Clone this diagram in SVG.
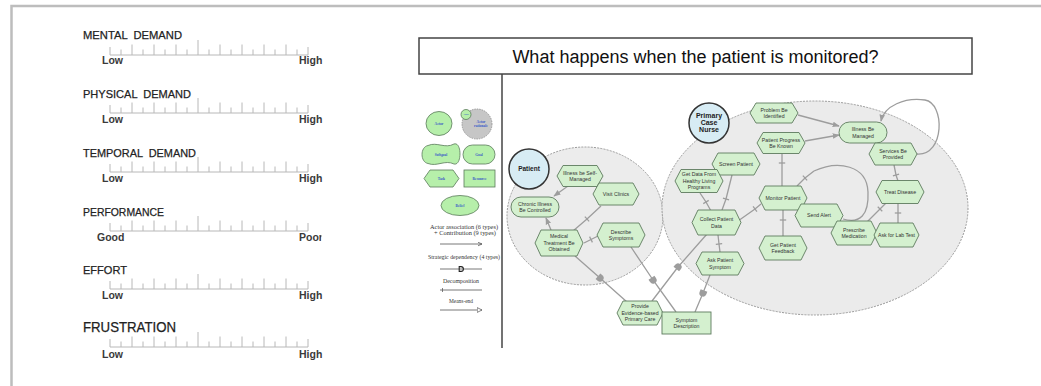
<svg xmlns="http://www.w3.org/2000/svg" width="1041" height="386" viewBox="0 0 1041 386">
<style>
  .frame{fill:none;stroke:#bdbdbd;stroke-width:2.5}
  .ttl{font-family:"Liberation Sans",Arial,sans-serif;font-size:11.5px;fill:#222;stroke:#222;stroke-width:0.25;white-space:pre}
  .lbl{font-family:"Liberation Sans",Arial,sans-serif;font-size:10.5px;font-weight:bold;fill:#3a3a3a}
  .scale{fill:none;stroke:#b8b8b8;stroke-width:1}
  .qbox{fill:#fff;stroke:#444;stroke-width:1.5}
  .qtxt{font-family:"Liberation Sans",Arial,sans-serif;font-size:18px;fill:#111}
  .bound{stroke:#9a9a9a;stroke-width:1;stroke-dasharray:2 1.2}
  .actor{fill:#d7ecf4;stroke:#333;stroke-width:1.5}
  .atxt{font-family:"Liberation Sans",Arial,sans-serif;font-weight:bold;fill:#222;text-anchor:middle}
  .el{fill:#d4f0cf;stroke:#5d7a5d;stroke-width:0.9}
  .t{font-family:"Liberation Sans",Arial,sans-serif;font-size:5.2px;fill:#333;text-anchor:middle}
  .c{fill:none;stroke:#9d9d9d;stroke-width:1.3}
  .lg{fill:#b6efaa;stroke:#5a7a5a;stroke-width:0.8}
  .lgt{font-family:"Liberation Serif","Times New Roman",serif;font-size:3.6px;font-weight:bold;fill:#3a58c8;text-anchor:middle}
  .lgl{font-family:"Liberation Serif","Times New Roman",serif;font-size:5.3px;fill:#333;text-anchor:middle}
  .lc{fill:none;stroke:#555;stroke-width:0.8}
</style>
<defs>
  <marker id="arr" viewBox="0 0 10 10" refX="9" refY="5" markerWidth="7" markerHeight="7" markerUnits="userSpaceOnUse" orient="auto">
    <path d="M0,1 L10,5 L0,9 Z" fill="#9d9d9d"/>
  </marker>
  <marker id="dep" viewBox="-5 -5 10 10" markerWidth="9" markerHeight="9" markerUnits="userSpaceOnUse" orient="auto">
    <path d="M-3,-4 H0 A4,4 0 0 1 0,4 H-3 Z" fill="#9d9d9d"/>
  </marker>
  <marker id="tick" viewBox="-5 -5 10 10" markerWidth="8" markerHeight="8" markerUnits="userSpaceOnUse" orient="auto">
    <path d="M0,-4 V4" stroke="#9d9d9d" stroke-width="1.6"/>
  </marker>
  <marker id="lgarr" viewBox="0 0 10 10" refX="9" refY="5" markerWidth="5" markerHeight="5" markerUnits="userSpaceOnUse" orient="auto">
    <path d="M0,1 L9,5 L0,9" fill="none" stroke="#555" stroke-width="1.5"/>
  </marker>
  <marker id="lgdep" viewBox="-5 -5 10 10" markerWidth="6" markerHeight="6" markerUnits="userSpaceOnUse" orient="auto">
    <path d="M-3,-4 H0 A4,4 0 0 1 0,4 H-3 Z" fill="none" stroke="#222" stroke-width="1.8"/>
  </marker>
  <marker id="lgtick" viewBox="-5 -5 10 10" markerWidth="5" markerHeight="5" markerUnits="userSpaceOnUse" orient="auto">
    <path d="M0,-4 V4" stroke="#555" stroke-width="1.5"/>
  </marker>
  <marker id="lgme" viewBox="0 0 10 10" refX="9" refY="5" markerWidth="6" markerHeight="6" markerUnits="userSpaceOnUse" orient="auto">
    <path d="M1,1 L9,5 L1,9 Z" fill="#fff" stroke="#555" stroke-width="1.2"/>
  </marker>
  <clipPath id="leftclip"><rect x="0" y="0" width="323.5" height="386"/></clipPath>
  <clipPath id="poorclip"><rect x="290" y="225" width="31.5" height="20"/></clipPath>
  <!-- rating scale: base line with 19 tick marks, origin at the left end -->
  <path id="scale" class="scale" d="M0,0 H198 M0,0 V-8 M11,0 V-5.5 M22,0 V-10.5 M33,0 V-5.5 M44,0 V-10.5 M55,0 V-5.5 M66,0 V-10.5 M77,0 V-5.5 M88,0 V-15 M99,0 V-5.5 M110,0 V-10.5 M121,0 V-5.5 M132,0 V-10.5 M143,0 V-5.5 M154,0 V-10.5 M165,0 V-5.5 M176,0 V-10.5 M187,0 V-5.5 M198,0 V-8"/>
</defs>

<rect width="1041" height="386" fill="#fff"/>
<path class="frame" d="M11.5,386 V6 H1041"/>

<!-- workload rating scales -->
<g id="scales" clip-path="url(#leftclip)">
  <g id="mental">
    <text class="ttl" x="83" y="39" xml:space="preserve" textLength="99" lengthAdjust="spacingAndGlyphs">MENTAL  DEMAND</text>
    <use href="#scale" x="110" y="55"/>
    <text class="lbl" x="102" y="64">Low</text>
    <text class="lbl" x="299" y="64">High</text>
  </g>
  <g id="physical">
    <text class="ttl" x="83" y="98" xml:space="preserve" textLength="108" lengthAdjust="spacingAndGlyphs">PHYSICAL  DEMAND</text>
    <use href="#scale" x="110" y="113"/>
    <text class="lbl" x="102" y="122.5">Low</text>
    <text class="lbl" x="299" y="122.5">High</text>
  </g>
  <g id="temporal">
    <text class="ttl" x="83" y="157" xml:space="preserve" textLength="113" lengthAdjust="spacingAndGlyphs">TEMPORAL  DEMAND</text>
    <use href="#scale" x="110" y="172"/>
    <text class="lbl" x="102" y="181.5">Low</text>
    <text class="lbl" x="299" y="181.5">High</text>
  </g>
  <g id="performance">
    <text class="ttl" x="83" y="216" textLength="81" lengthAdjust="spacingAndGlyphs">PERFORMANCE</text>
    <use href="#scale" x="110" y="231"/>
    <text class="lbl" x="97" y="240.5">Good</text>
    <text class="lbl" x="299" y="240.5" clip-path="url(#poorclip)">Poor</text>
  </g>
  <g id="effort">
    <text class="ttl" x="83" y="274" textLength="44" lengthAdjust="spacingAndGlyphs">EFFORT</text>
    <use href="#scale" x="110" y="289"/>
    <text class="lbl" x="102" y="299">Low</text>
    <text class="lbl" x="299" y="299">High</text>
  </g>
  <g id="frustration">
    <text class="ttl" x="83" y="332" style="font-size:14px" textLength="93" lengthAdjust="spacingAndGlyphs">FRUSTRATION</text>
    <use href="#scale" x="110" y="347"/>
    <text class="lbl" x="102" y="357.5">Low</text>
    <text class="lbl" x="299" y="357.5">High</text>
  </g>
</g>

<!-- question heading and divider -->
<g id="question">
  <rect class="qbox" x="419" y="38" width="553" height="36"/>
  <text class="qtxt" x="695.5" y="62.5" text-anchor="middle">What happens when the patient is monitored?</text>
  <path d="M502,74 V348" stroke="#444" stroke-width="1.5"/>
</g>

<!-- notation legend -->
<g id="legend">
  <ellipse class="lg" cx="439" cy="123.5" rx="13" ry="12"/>
  <text class="lgt" x="439" y="124.8">Actor</text>
  <circle cx="477" cy="124" r="15" fill="#c6c6c6" stroke="#8a8a8a" stroke-width="0.8" stroke-dasharray="1.5 1"/>
  <circle class="lg" cx="466" cy="114.5" r="5"/>
  <text class="lgt" x="466" y="115.3" style="font-size:2.2px">Actor</text>
  <text class="lgt" x="481" y="122.5">Actor</text>
  <text class="lgt" x="481" y="127.3">rationale</text>
  <path class="lg" d="M428,145.5 C437,141.5 445,149 454,144 C462,141.5 462,166 454,164 C445,159.5 437,167 428,163.5 C420,162 420,147 428,145.5 Z"/>
  <text class="lgt" x="441" y="155.8">Softgoal</text>
  <rect class="lg" x="463" y="145" width="32" height="19" rx="9.5"/>
  <text class="lgt" x="479" y="155.8">Goal</text>
  <polygon class="lg" points="424,178.5 430,170 453,170 459,178.5 453,187 430,187"/>
  <text class="lgt" x="441.5" y="179.8">Task</text>
  <rect class="lg" x="464" y="170" width="31" height="17"/>
  <text class="lgt" x="479.5" y="179.8">Resource</text>
  <ellipse class="lg" cx="460" cy="205.5" rx="19" ry="10"/>
  <text class="lgt" x="460" y="206.8">Belief</text>
  <text class="lgl" x="464" y="229" textLength="68" lengthAdjust="spacingAndGlyphs">Actor association (6 types)</text>
  <text class="lgl" x="465" y="234.5" textLength="62" lengthAdjust="spacingAndGlyphs">+ Contribution (9 types)</text>
  <path class="lc" d="M440,244 H482" marker-end="url(#lgarr)"/>
  <text class="lgl" x="464" y="259" textLength="72" lengthAdjust="spacingAndGlyphs">Strategic dependency (4 types)</text>
  <path class="lc" d="M440,269 H461 H482" marker-mid="url(#lgdep)"/>
  <text class="lgl" x="461" y="283" textLength="36" lengthAdjust="spacingAndGlyphs">Decomposition</text>
  <path class="lc" d="M440,290 L442.5,290 L482,290" marker-mid="url(#lgtick)"/>
  <text class="lgl" x="461" y="303" textLength="24" lengthAdjust="spacingAndGlyphs">Means-end</text>
  <path class="lc" d="M440,310 H482" marker-end="url(#lgme)"/>
</g>

<!-- actor boundaries -->
<g id="boundaries">
  <ellipse class="bound" cx="585" cy="216" rx="78" ry="69" fill="#ececec"/>
  <ellipse class="bound" cx="815" cy="208" rx="153" ry="107" fill="#ebebeb"/>
</g>

<!-- links -->
<g id="connectors">
  <path class="c" d="M568,186 L554,196" marker-end="url(#arr)"/>
  <path class="c" d="M551,230 L546,218" marker-end="url(#arr)"/>
  <path class="c" d="M601,206 L587,219 L573,231" marker-mid="url(#tick)"/>
  <path class="c" d="M598,236 L591,239.5 L584,243" marker-mid="url(#tick)"/>
  <path class="c" d="M575,256 L600,278 L627,302" marker-mid="url(#dep)"/>
  <path class="c" d="M652,301 L678,267 L707,234" marker-mid="url(#dep)"/>
  <path class="c" d="M631,247 L653,280 L676,312" marker-mid="url(#dep)"/>
  <path class="c" d="M710,275 L703,293 L695,312" marker-mid="url(#dep)"/>
  <path class="c" d="M798,115 L839,126" marker-end="url(#arr)"/>
  <path class="c" d="M805,141 L839,135" marker-end="url(#arr)"/>
  <path class="c" d="M917,154 C945,156 945,103 925,100 C905,97 884,106 881,121" marker-end="url(#arr)"/>
  <path class="c" d="M700,193 L706,202 L711,211" marker-mid="url(#tick)"/>
  <path class="c" d="M732,175 L726,199 L722,210" marker-mid="url(#tick)"/>
  <path class="c" d="M718,235 L719,244 L720,252" marker-mid="url(#tick)"/>
  <path class="c" d="M761,204 L755,209 L738,221" marker-mid="url(#tick)"/>
  <path class="c" d="M782,154 L782,163 L782,186" marker-mid="url(#tick)"/>
  <path class="c" d="M783,210 L783,220 L783,236" marker-mid="url(#tick)"/>
  <path class="c" d="M894,165 L896,175 L898,181" marker-mid="url(#tick)"/>
  <path class="c" d="M898,203 L898,213 L898,223" marker-mid="url(#tick)"/>
  <path class="c" d="M886,203 L880,209 L867,222" marker-mid="url(#tick)"/>
  <path class="c" d="M843,219 C860,224 869,215 868,192 C867,165 838,160 814,171"/>
  <path class="c" d="M814,171 L805,178 L797,186" marker-mid="url(#tick)"/>
</g>

<!-- Patient actor and elements -->
<g id="actor-patient">
  <circle class="actor" cx="529" cy="169" r="20"/>
  <text class="atxt" x="529" y="171.3" style="font-size:6.5px">Patient</text>
</g>
<g id="illness-self-managed">
  <polygon class="el" points="557,176 563,165.5 597,165.5 603,176 597,186.5 563,186.5"/>
  <text class="t" x="580" y="174.6">Illness be Self-</text>
  <text class="t" x="580" y="181.1">Managed</text>
</g>
<g id="visit-clinics">
  <polygon class="el" points="593,194 599,183 633,183 639,194 633,205 599,205"/>
  <text class="t" x="616" y="195.9">Visit Clinics</text>
</g>
<g id="chronic-illness">
  <rect class="el" x="511" y="197" width="48" height="20" rx="10"/>
  <text class="t" x="535" y="205.6">Chronic Illness</text>
  <text class="t" x="535" y="212.1">Be Controlled</text>
</g>
<g id="medical-treatment">
  <polygon class="el" points="535,243 541,230 577,230 583,243 577,256 541,256"/>
  <text class="t" x="559" y="238.4">Medical</text>
  <text class="t" x="559" y="244.9">Treatment Be</text>
  <text class="t" x="559" y="251.4">Obtained</text>
</g>
<g id="describe-symptoms">
  <polygon class="el" points="597,235 603,223 639,223 645,235 639,247 603,247"/>
  <text class="t" x="621" y="233.6">Describe</text>
  <text class="t" x="621" y="240.1">Symptoms</text>
</g>
<g id="provide-care">
  <polygon class="el" points="617,313 623,301 657,301 663,313 657,325 623,325"/>
  <text class="t" x="640" y="308.4">Provide</text>
  <text class="t" x="640" y="314.9">Evidence-based</text>
  <text class="t" x="640" y="321.4">Primary Care</text>
</g>
<g id="symptom-description">
  <rect class="el" x="662" y="312" width="49" height="22"/>
  <text class="t" x="686.5" y="321.6">Symptom</text>
  <text class="t" x="686.5" y="328.1">Description</text>
</g>

<!-- Primary Case Nurse actor and elements -->
<g id="actor-nurse">
  <circle class="actor" cx="709" cy="123" r="20"/>
  <text class="atxt" x="709" y="117.5" style="font-size:7px">Primary</text>
  <text class="atxt" x="709" y="124.8" style="font-size:7px">Case</text>
  <text class="atxt" x="709" y="132.1" style="font-size:7px">Nurse</text>
</g>
<g id="problem-identified">
  <polygon class="el" points="750,113 756,103 792,103 798,113 792,123 756,123"/>
  <text class="t" x="774" y="111.6">Problem Be</text>
  <text class="t" x="774" y="118.1">Identified</text>
</g>
<g id="illness-managed">
  <rect class="el" x="839" y="122" width="48" height="21" rx="10.5"/>
  <text class="t" x="863" y="131.1">Illness Be</text>
  <text class="t" x="863" y="137.6">Managed</text>
</g>
<g id="progress-known">
  <polygon class="el" points="757,143 763,132.5 799,132.5 805,143 799,153.5 763,153.5"/>
  <text class="t" x="781" y="141.6">Patient Progress</text>
  <text class="t" x="781" y="148.1">Be Known</text>
</g>
<g id="services-provided">
  <polygon class="el" points="869,154 875,143 911,143 917,154 911,165 875,165"/>
  <text class="t" x="893" y="152.6">Services Be</text>
  <text class="t" x="893" y="159.1">Provided</text>
</g>
<g id="screen-patient">
  <polygon class="el" points="712,164 718,153 754,153 760,164 754,175 718,175"/>
  <text class="t" x="736" y="165.9">Screen Patient</text>
</g>
<g id="get-data">
  <polygon class="el" points="675,181 681,169.5 717,169.5 723,181 717,192.5 681,192.5"/>
  <text class="t" x="699" y="176.4">Get Data From</text>
  <text class="t" x="699" y="182.9">Healthy Living</text>
  <text class="t" x="699" y="189.4">Programs</text>
</g>
<g id="monitor-patient">
  <polygon class="el" points="759,198 765,186 801,186 807,198 801,210 765,210"/>
  <text class="t" x="783" y="199.9">Monitor Patient</text>
</g>
<g id="treat-disease">
  <polygon class="el" points="876,192 882,180.5 918,180.5 924,192 918,203.5 882,203.5"/>
  <text class="t" x="900" y="193.9">Treat Disease</text>
</g>
<g id="collect-data">
  <polygon class="el" points="692,222.5 698,210 735,210 741,222.5 735,235 698,235"/>
  <text class="t" x="716.5" y="221.1">Collect Patient</text>
  <text class="t" x="716.5" y="227.6">Data</text>
</g>
<g id="send-alert">
  <polygon class="el" points="795,215.5 801,204 837,204 843,215.5 837,227 801,227"/>
  <text class="t" x="819" y="217.4">Send Alert</text>
</g>
<g id="patient-feedback">
  <polygon class="el" points="759,248 765,236 801,236 807,248 801,260 765,260"/>
  <text class="t" x="783" y="246.6">Get Patient</text>
  <text class="t" x="783" y="253.1">Feedback</text>
</g>
<g id="ask-symptom">
  <polygon class="el" points="696,263.5 702,252 738,252 744,263.5 738,275 702,275"/>
  <text class="t" x="720" y="262.1">Ask Patient</text>
  <text class="t" x="720" y="268.6">Symptom</text>
</g>
<g id="prescribe-medication">
  <polygon class="el" points="831,233 837,221 871,221 877,233 871,245 837,245"/>
  <text class="t" x="854" y="231.6">Prescribe</text>
  <text class="t" x="854" y="238.1">Medication</text>
</g>
<g id="lab-test">
  <polygon class="el" points="874,235 880,223 913,223 919,235 913,247 880,247"/>
  <text class="t" x="896.5" y="236.9">Ask for Lab Test</text>
</g>
</svg>
